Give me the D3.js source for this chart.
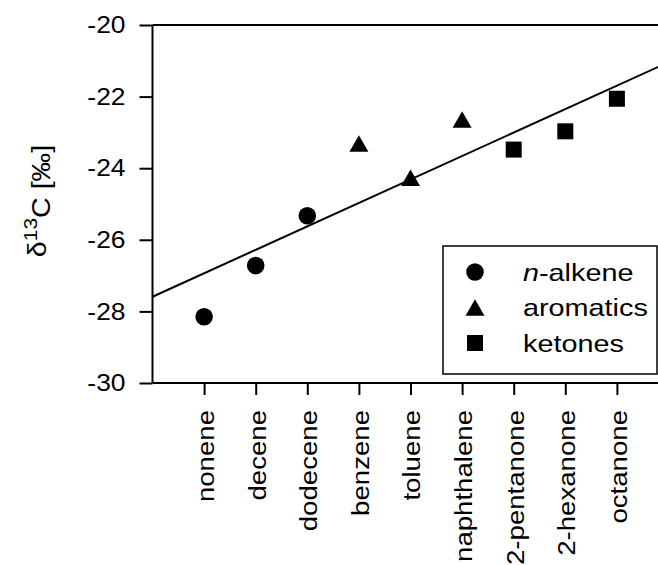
<!DOCTYPE html>
<html>
<head>
<meta charset="utf-8">
<script src="https://cdn.jsdelivr.net/npm/d3@7"></script>
<style>
  html, body { margin: 0; padding: 0; background: #fff; }
  svg { display: block; }
  text { font-family: "Liberation Sans", Arial, sans-serif; fill: #000; }
</style>
</head>
<body>
<svg id="chart" width="658" height="565"></svg>
<script>
// Compounds along the x axis, in plotting order
const compounds = ["nonene", "decene", "dodecene", "benzene", "toluene",
                   "naphthalene", "2-pentanone", "2-hexanone", "octanone"];
// δ13C values (‰) per compound
const delta13C = [-28.15, -26.72, -25.33, -23.31, -24.27, -22.64, -23.48, -22.97, -22.06];
// Compound class for each entry
const compoundClass = ["alkene", "alkene", "alkene", "aromatic", "aromatic",
                       "aromatic", "ketone", "ketone", "ketone"];
// Legend entries
const classKeys = ["alkene", "aromatic", "ketone"];
const yTicks = [-30, -28, -26, -24, -22, -20];
// Linear trend line: value at position 0 and slope per compound step
const trendIntercept = -27.59;
const trendSlope = 0.655;

const svg = d3.select("#chart");

const x = d3.scaleLinear().domain([0, 10]).range([152.5, 668.5]);
const y = d3.scaleLinear().domain([-30, -20]).range([383, 25]);

// Frame (top and bottom edges plus left axis line)
svg.append("line").attr("x1", x(0)).attr("x2", x(10)).attr("y1", y(-20)).attr("y2", y(-20))
  .attr("stroke", "#000").attr("stroke-width", 2);
svg.append("line").attr("x1", x(0)).attr("x2", x(10)).attr("y1", y(-30)).attr("y2", y(-30))
  .attr("stroke", "#000").attr("stroke-width", 2);
svg.append("line").attr("x1", x(0)).attr("x2", x(0)).attr("y1", y(-30)).attr("y2", y(-20))
  .attr("stroke", "#000").attr("stroke-width", 2);

// Y axis
const yAxis = svg.append("g").attr("transform", `translate(${x(0)},0)`)
  .call(d3.axisLeft(y).tickValues(yTicks).tickSize(13).tickPadding(14).tickFormat(d3.format("d")));
yAxis.select(".domain").remove();
yAxis.selectAll(".tick line").attr("stroke", "#000").attr("stroke-width", 2);
yAxis.selectAll(".tick text")
  .attr("font-size", 24)
  .text(d => String(d).replace("−", "-"))
  .each(function () {
    const t = d3.select(this);
    const xPos = +t.attr("x");
    t.attr("x", null).attr("transform", `translate(${xPos},0) scale(1.1,1)`);
  });

// X axis with rotated compound names
const idx = compounds.map((d, i) => i + 1);
const xAxis = svg.append("g").attr("transform", `translate(0,${y(-30)})`)
  .call(d3.axisBottom(x).tickValues(idx).tickSize(12).tickPadding(15)
    .tickFormat(i => compounds[i - 1]));
xAxis.select(".domain").remove();
xAxis.selectAll(".tick line").attr("stroke", "#000").attr("stroke-width", 2);
xAxis.selectAll(".tick text")
  .attr("font-size", 24)
  .attr("text-anchor", "end")
  .attr("x", null).attr("y", null).attr("dy", "0.35em")
  .attr("transform", "translate(1,27) rotate(-90) scale(1.15,1)");

// Y axis title: δ13C [‰]
const yTitle = svg.append("text")
  .attr("transform", "translate(46,201) rotate(-90) scale(1.1,1)")
  .attr("text-anchor", "middle")
  .attr("font-size", 26);
yTitle.append("tspan").text("δ");
yTitle.append("tspan").attr("font-size", 19).attr("dy", "-0.5em").text("13");
yTitle.append("tspan").attr("dy", "0.5em").text("C [‰]");

// Trend line across the plot
svg.append("line")
  .attr("x1", x(0)).attr("y1", y(trendIntercept))
  .attr("x2", x(10)).attr("y2", y(trendIntercept + trendSlope * 10))
  .attr("stroke", "#000").attr("stroke-width", 2);

// Marker shapes per class
function drawMarker(sel, cls, cx, cy) {
  if (cls === "alkene") {
    sel.append("circle").attr("cx", cx).attr("cy", cy).attr("r", 8.8).attr("fill", "#000");
  } else if (cls === "aromatic") {
    const w = 19, h = 16.5;
    sel.append("path")
      .attr("d", `M${cx},${cy - h / 2}L${cx + w / 2},${cy + h / 2}L${cx - w / 2},${cy + h / 2}Z`)
      .attr("fill", "#000");
  } else {
    const s = 16;
    sel.append("rect").attr("x", cx - s / 2).attr("y", cy - s / 2)
      .attr("width", s).attr("height", s).attr("fill", "#000");
  }
}

const pts = svg.append("g");
delta13C.forEach((v, i) => drawMarker(pts, compoundClass[i], x(i + 1), y(v)));

// Legend
const legend = svg.append("g");
legend.append("rect").attr("x", 443).attr("y", 246).attr("width", 214).attr("height", 128)
  .attr("fill", "#fff").attr("stroke", "#000").attr("stroke-width", 1.5);
const legendRows = [272, 307.5, 343];
classKeys.forEach((k, i) => {
  drawMarker(legend, k, 475, legendRows[i]);
  const t = legend.append("text")
    .attr("transform", `translate(523,${legendRows[i]}) scale(1.2,1)`)
    .attr("dy", "0.36em").attr("font-size", 24);
  if (k === "alkene") {
    t.append("tspan").attr("font-style", "italic").text("n");
    t.append("tspan").text("-alkene");
  } else if (k === "aromatic") {
    t.text("aromatics");
  } else {
    t.text("ketones");
  }
});
</script>
</body>
</html>
